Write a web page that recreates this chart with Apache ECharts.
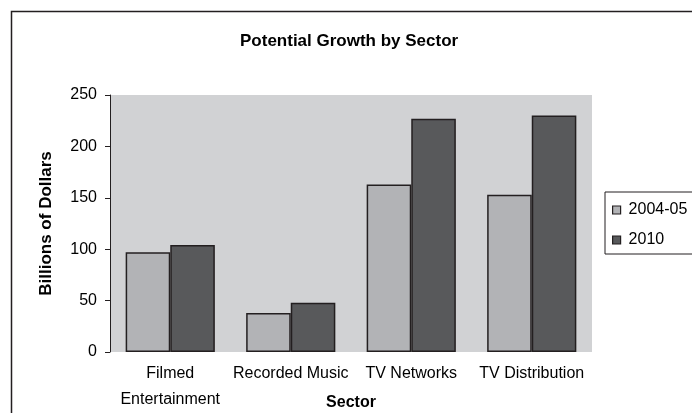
<!DOCTYPE html>
<html>
<head>
<meta charset="utf-8">
<script src="https://cdn.jsdelivr.net/npm/echarts@6/dist/echarts.min.js"></script>
<style>
  html, body { margin: 0; padding: 0; background: #fff; }
  #chart { width: 692px; height: 413px; }
</style>
</head>
<body>
<div id="chart"></div>
<script>
const sectors = ['Filmed\nEntertainment', 'Recorded Music', 'TV Networks', 'TV Distribution']
const seriesNames = ['2004-05', '2010']
const values2004 = [97, 38, 163, 153]
const values2010 = [104, 48, 227, 230]
const yTicks = [0, 50, 100, 150, 200, 250]

const font = 'Liberation Sans, Arial, sans-serif'
const edge = '#231f20'

const chart = echarts.init(document.getElementById('chart'))

chart.setOption({
  animation: false,
  textStyle: { fontFamily: font },
  title: {
    text: 'Potential Growth by Sector',
    left: 235,
    top: 28,
    textStyle: { fontFamily: font, fontSize: 17, fontWeight: 'bold', color: '#000' }
  },
  graphic: [{
    type: 'rect',
    silent: true,
    shape: { x: 11.5, y: 11.5, width: 720, height: 440 },
    style: { fill: 'none', stroke: edge, lineWidth: 1.5 }
  }],
  legend: {
    orient: 'vertical',
    left: 605,
    top: 192,
    data: seriesNames,
    itemWidth: 8,
    itemHeight: 8,
    itemGap: 14,
    padding: [10, 40, 6, 7],
    borderColor: edge,
    borderWidth: 1,
    icon: 'rect',
    itemStyle: { borderColor: edge, borderWidth: 1.2 },
    textStyle: { fontFamily: font, fontSize: 16, color: '#000', padding: [0, 0, 0, 3] }
  },
  grid: {
    left: 110,
    right: 100,
    top: 95,
    bottom: 61,
    outerBoundsMode: 'none',
    containLabel: false,
    show: true,
    backgroundColor: '#d1d2d4',
    borderWidth: 0
  },
  xAxis: {
    type: 'category',
    data: sectors,
    name: 'Sector',
    nameLocation: 'middle',
    nameGap: 43,
    nameMoveOverlap: false,
    nameTextStyle: { fontFamily: font, fontSize: 16, fontWeight: 'bold', color: '#000' },
    axisLine: { show: false },
    axisTick: { show: false },
    axisLabel: {
      interval: 0,
      margin: 9,
      fontFamily: font,
      fontSize: 16,
      lineHeight: 26,
      color: '#000'
    }
  },
  yAxis: {
    type: 'value',
    min: yTicks[0],
    max: yTicks[yTicks.length - 1],
    interval: 50,
    name: 'Billions of Dollars',
    nameLocation: 'middle',
    nameGap: 55,
    nameMoveOverlap: false,
    nameTextStyle: { fontFamily: font, fontSize: 17, fontWeight: 'bold', color: '#000' },
    axisLine: { show: true, lineStyle: { color: edge, width: 1 } },
    axisTick: { show: true, length: 5, lineStyle: { color: edge } },
    axisLabel: { margin: 13, fontFamily: font, fontSize: 16, color: '#000' },
    splitLine: { show: false }
  },
  series: [
    {
      name: seriesNames[0],
      type: 'bar',
      data: values2004,
      barGap: '0%',
      barCategoryGap: '26%',
      itemStyle: { color: '#b2b3b6', borderColor: edge, borderWidth: 1.5 }
    },
    {
      name: seriesNames[1],
      type: 'bar',
      data: values2010,
      barGap: '0%',
      barCategoryGap: '26%',
      itemStyle: { color: '#58595b', borderColor: edge, borderWidth: 1.5 }
    }
  ]
})
</script>
</body>
</html>
